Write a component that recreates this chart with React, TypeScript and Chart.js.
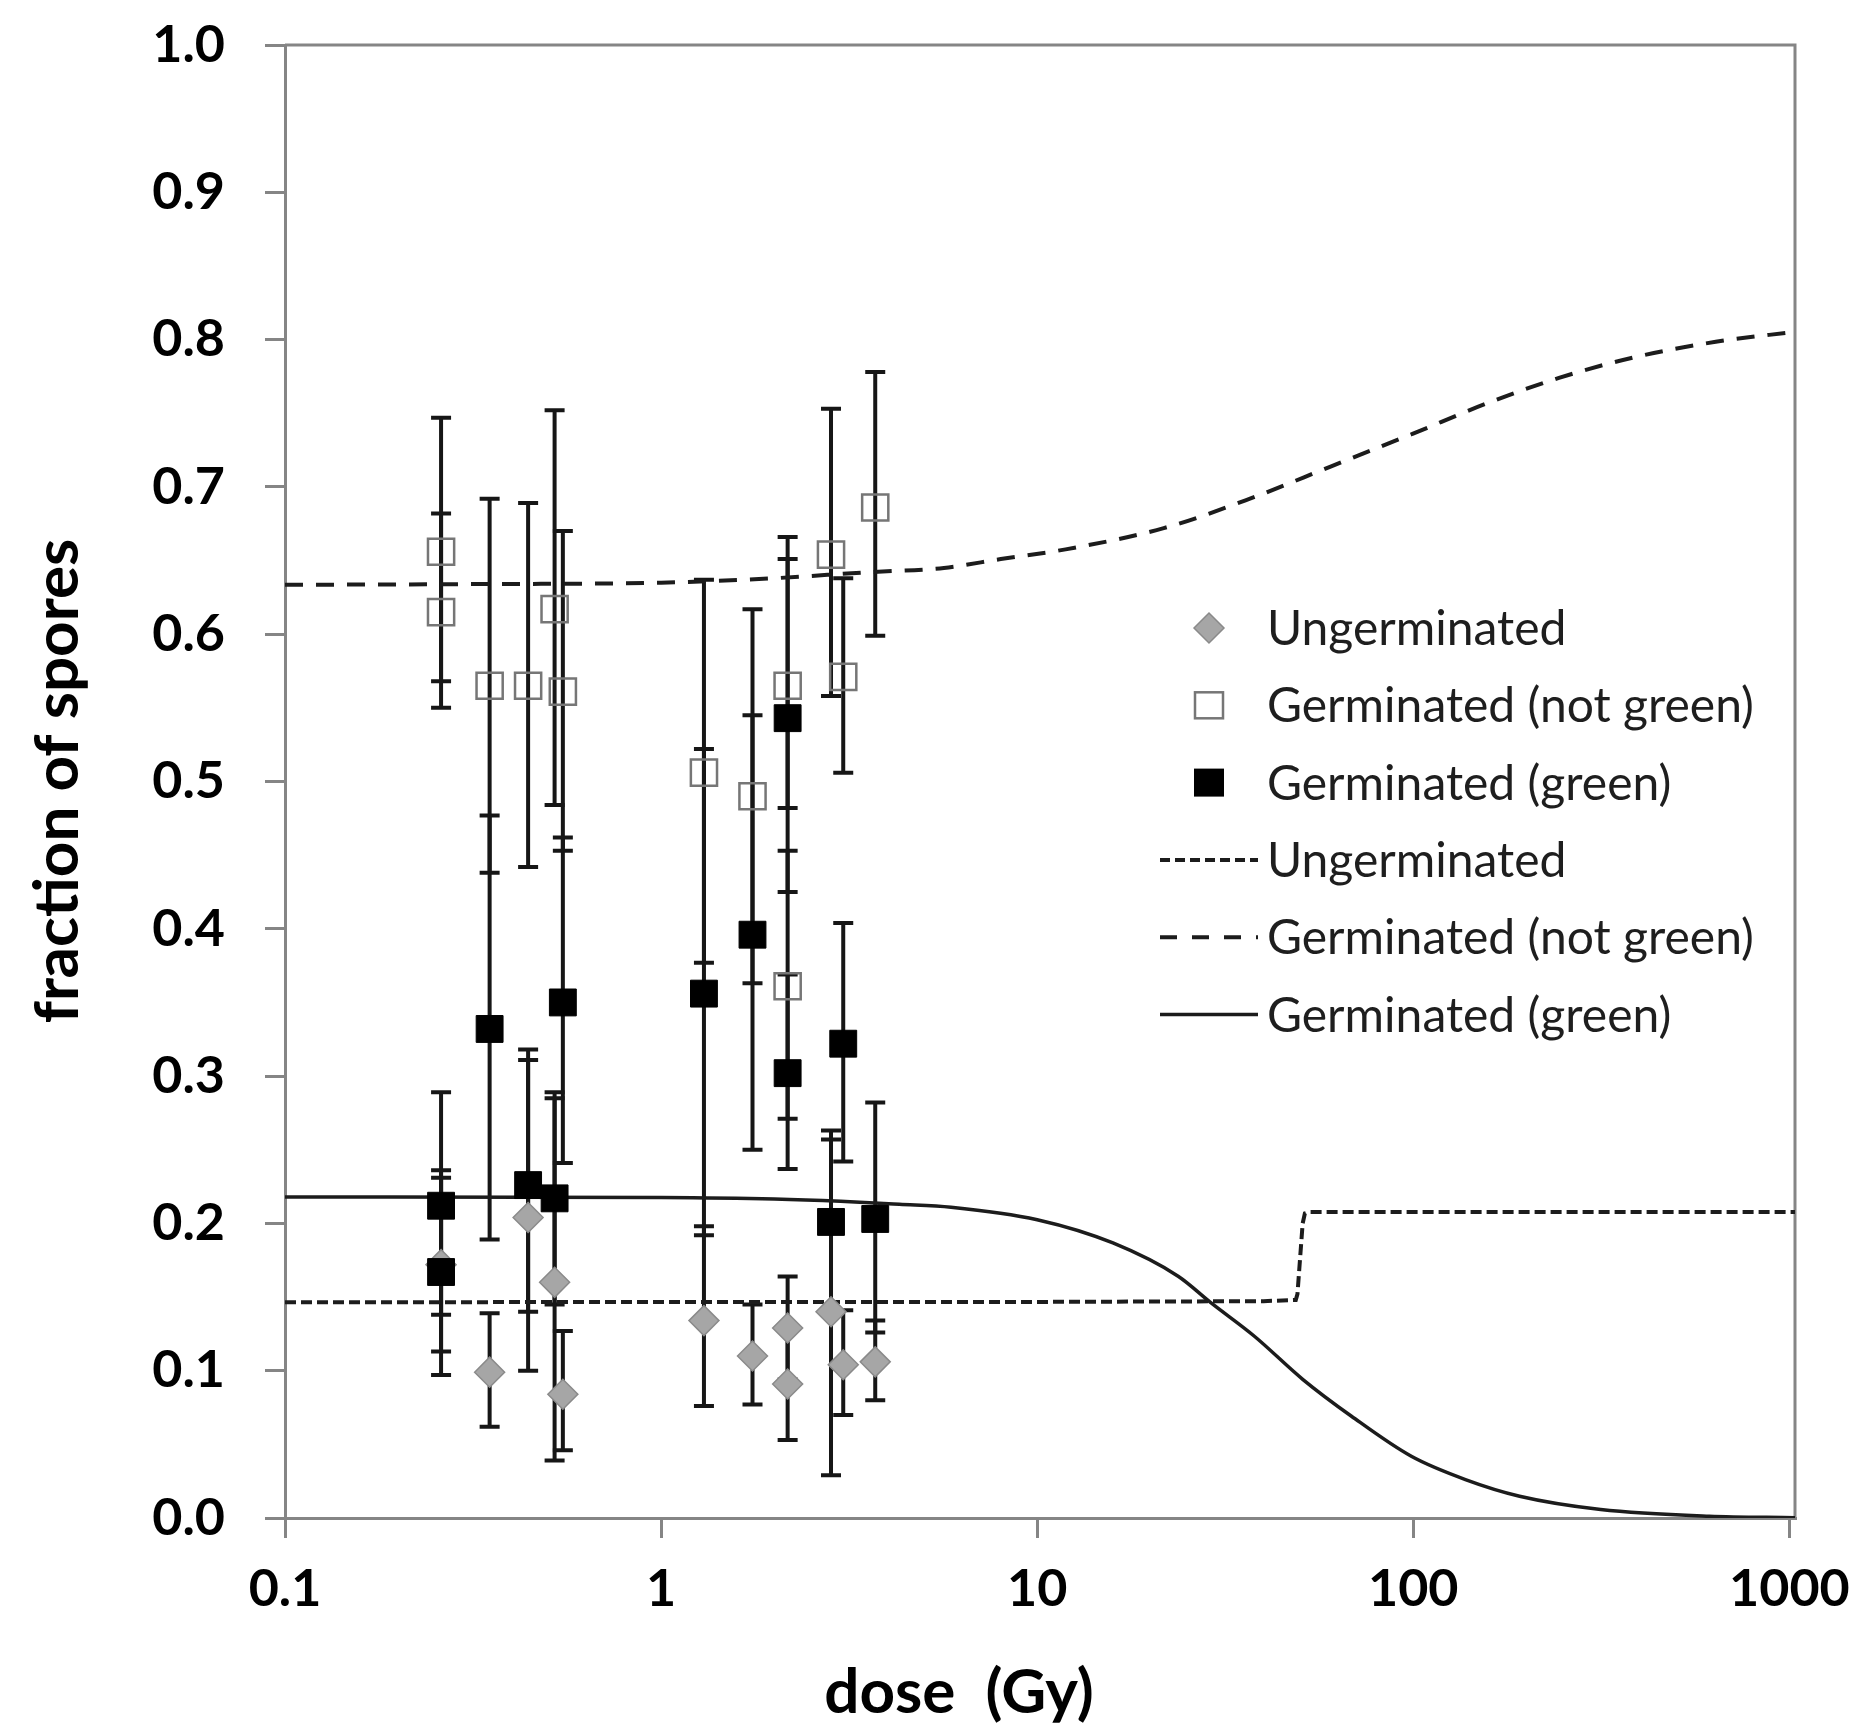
import React, { useEffect, useRef } from "react";
import { Chart, registerables } from "chart.js";

Chart.register(...registerables);

const W = 1850;
const H = 1724;
const FONT = "Lato, 'Open Sans', 'DejaVu Sans', sans-serif";

// ---------- axis ticks / titles ----------
const xTickValues = [0.1, 1, 10, 100, 1000];
const xTickLabels = ["0.1", "1", "10", "100", "1000"];
const yTickValues = [0, 0.1, 0.2, 0.3, 0.4, 0.5, 0.6, 0.7, 0.8, 0.9, 1.0];
const yTickLabels = ["0.0", "0.1", "0.2", "0.3", "0.4", "0.5", "0.6", "0.7", "0.8", "0.9", "1.0"];
const xAxisTitle = "dose  (Gy)";
const yAxisTitle = "fraction of spores";

// ---------- series names ----------
const seriesUngerminated = "Ungerminated";
const seriesNotGreen = "Germinated (not green)";
const seriesGreen = "Germinated (green)";

// ---------- measured points (dose, fraction, error bar low, error bar high) ----------
const ungermX = [0.26, 0.35, 0.443, 0.521, 0.548, 1.3, 1.75, 2.17, 2.17, 2.83, 3.05, 3.71];
const ungermY = [0.172, 0.099, 0.204, 0.16, 0.084, 0.134, 0.11, 0.129, 0.091, 0.14, 0.104, 0.106];
const ungermLo = [0.113, 0.062, 0.1, 0.039, 0.046, 0.076, 0.077, 0.094, 0.053, 0.029, 0.07, 0.08];
const ungermHi = [0.231, 0.139, 0.311, 0.285, 0.127, 0.198, 0.145, 0.164, 0.128, 0.257, 0.141, 0.134];

const notGreenX = [0.26, 0.26, 0.35, 0.443, 0.521, 0.548, 1.3, 1.75, 2.17, 2.17, 2.83, 3.05, 3.71];
const notGreenY = [0.656, 0.615, 0.565, 0.565, 0.617, 0.561, 0.506, 0.49, 0.565, 0.361, 0.654, 0.571, 0.686];
const notGreenLo = [0.568, 0.55, 0.438, 0.442, 0.484, 0.453, 0.377, 0.363, 0.482, 0.271, 0.558, 0.506, 0.599];
const notGreenHi = [0.747, 0.682, 0.692, 0.689, 0.752, 0.67, 0.637, 0.617, 0.651, 0.453, 0.753, 0.638, 0.778];

const greenX = [0.26, 0.26, 0.35, 0.443, 0.521, 0.548, 1.3, 1.75, 2.17, 2.17, 2.83, 3.05, 3.71];
const greenY = [0.212, 0.167, 0.332, 0.226, 0.217, 0.35, 0.356, 0.396, 0.543, 0.302, 0.201, 0.322, 0.203];
const greenLo = [0.138, 0.097, 0.189, 0.14, 0.145, 0.241, 0.192, 0.25, 0.425, 0.237, 0.139, 0.242, 0.126];
const greenHi = [0.289, 0.236, 0.477, 0.318, 0.289, 0.462, 0.522, 0.545, 0.666, 0.369, 0.263, 0.404, 0.282];

// ---------- model curves ----------
const ungermFitX = [0.1, 10, 40, 48.7, 49.2, 50.8, 51.5, 53, 100, 1035];
const ungermFitY = [0.1465, 0.1467, 0.1472, 0.148, 0.152, 0.2, 0.2068, 0.2078, 0.2078, 0.2078];

const notGreenFitX = [0.1, 0.3, 1, 2, 3.5, 5.65, 8, 11.9, 21.7, 36.8, 60.5, 99.5, 158, 244, 387, 637, 1035];
const notGreenFitY = [0.6335, 0.634, 0.635, 0.638, 0.642, 0.645, 0.651, 0.6576, 0.672, 0.692, 0.714, 0.736, 0.757, 0.774, 0.788, 0.7985, 0.8053];

const greenFitX = [0.1, 1, 2, 3, 4.3, 5.9, 10, 15.9, 23.7, 29, 37.8, 50.9, 68.5, 98.8, 137.6, 191.7, 315, 612, 1035];
const greenFitY = [0.218, 0.2175, 0.2165, 0.215, 0.213, 0.211, 0.2025, 0.1867, 0.1641, 0.146, 0.1234, 0.094, 0.0691, 0.0419, 0.0261, 0.0148, 0.0058, 0.0012, 0.0002];

const toXY = (xs: number[], ys: number[]) => xs.map((x, i) => ({ x, y: ys[i] }));

const AXIS_GRAY = "#858585";
const BAR_COLOR = "#161616";
const LINE_COLOR = "#1c1c1c";
const DIAMOND_FILL = "#a6a6a6";
const DIAMOND_EDGE = "#8a8a8a";
const OPEN_EDGE = "#767676";

const errorBarPlugin = {
  id: "errorBars",
  beforeDatasetsDraw(chart: any) {
    const ctx = chart.ctx;
    const yScale = chart.scales.y;
    const a = chart.chartArea;
    ctx.save();
    ctx.beginPath();
    ctx.rect(a.left, a.top, a.right - a.left, a.bottom - a.top);
    ctx.clip();
    ctx.strokeStyle = BAR_COLOR;
    ctx.lineWidth = 4;
    chart.data.datasets.forEach((ds: any, i: number) => {
      const eb = ds.errorBars;
      if (!eb) return;
      const meta = chart.getDatasetMeta(i);
      meta.data.forEach((pt: any, j: number) => {
        const x = pt.x;
        const yl = yScale.getPixelForValue(eb.lo[j]);
        const yh = yScale.getPixelForValue(eb.hi[j]);
        ctx.beginPath();
        ctx.moveTo(x, yl);
        ctx.lineTo(x, yh);
        ctx.moveTo(x - 10, yl);
        ctx.lineTo(x + 10, yl);
        ctx.moveTo(x - 10, yh);
        ctx.lineTo(x + 10, yh);
        ctx.stroke();
      });
    });
    ctx.restore();
  },
};

const framePlugin = {
  id: "frame",
  beforeDatasetsDraw(chart: any) {
    const ctx = chart.ctx;
    const a = chart.chartArea;
    ctx.save();
    ctx.strokeStyle = AXIS_GRAY;
    ctx.lineWidth = 3;
    ctx.beginPath();
    ctx.moveTo(a.left, a.top);
    ctx.lineTo(a.right, a.top);
    ctx.lineTo(a.right, a.bottom);
    ctx.stroke();
    ctx.restore();
  },
};

const titlesPlugin = {
  id: "axisTitles",
  afterDraw(chart: any) {
    const ctx = chart.ctx;
    ctx.save();
    ctx.fillStyle = "#000";
    ctx.font = `bold 62px ${FONT}`;
    ctx.textAlign = "center";
    ctx.textBaseline = "alphabetic";
    ctx.fillText(xAxisTitle, 959, 1713);
    ctx.translate(78, 781);
    ctx.rotate(-Math.PI / 2);
    ctx.fillText(yAxisTitle, 0, 0);
    ctx.restore();
  },
};

const legendPlugin = {
  id: "customLegend",
  afterDraw(chart: any) {
    const ctx = chart.ctx;
    const ds = chart.data.datasets;
    const rows = [ds[2], ds[1], ds[0], ds[3], ds[4], ds[5]];
    const y0 = 628;
    const step = 77.3;
    const symX = 1209;
    const textX = 1267;
    ctx.save();
    rows.forEach((d: any, i: number) => {
      const cy = y0 + i * step;
      ctx.setLineDash([]);
      if (d.legendKind === "diamond") {
        ctx.beginPath();
        ctx.moveTo(symX - 15, cy);
        ctx.lineTo(symX, cy - 15);
        ctx.lineTo(symX + 15, cy);
        ctx.lineTo(symX, cy + 15);
        ctx.closePath();
        ctx.fillStyle = DIAMOND_FILL;
        ctx.fill();
        ctx.strokeStyle = DIAMOND_EDGE;
        ctx.lineWidth = 1.5;
        ctx.stroke();
      } else if (d.legendKind === "open") {
        ctx.strokeStyle = OPEN_EDGE;
        ctx.lineWidth = 2.5;
        ctx.strokeRect(symX - 14, cy - 13, 28, 26);
      } else if (d.legendKind === "filled") {
        ctx.fillStyle = "#000";
        ctx.fillRect(symX - 15, cy - 14, 30, 28);
      } else {
        ctx.strokeStyle = LINE_COLOR;
        ctx.lineWidth = d.borderWidth;
        ctx.setLineDash(d.legendDash || []);
        ctx.beginPath();
        ctx.moveTo(1160, cy);
        ctx.lineTo(1258, cy);
        ctx.stroke();
        ctx.setLineDash([]);
      }
      ctx.fillStyle = "#1e1e1e";
      ctx.font = `48px ${FONT}`;
      ctx.textAlign = "left";
      ctx.textBaseline = "alphabetic";
      ctx.fillText(d.label, textX, cy + 17);
    });
    ctx.restore();
  },
};

export default function App() {
  const ref = useRef<HTMLCanvasElement>(null);

  useEffect(() => {
    const canvas = ref.current;
    if (!canvas) return;
    const tickFont = { family: FONT, size: 52, weight: "bold" as const };
    const chart = new Chart(canvas, {
      type: "scatter",
      data: {
        datasets: [
          {
            label: seriesGreen,
            data: toXY(greenX, greenY),
            pointStyle: "rect",
            pointRadius: 19,
            backgroundColor: "#000",
            borderColor: "#000",
            borderWidth: 1,
            order: 1,
            legendKind: "filled",
            errorBars: { lo: greenLo, hi: greenHi },
          } as any,
          {
            label: seriesNotGreen,
            data: toXY(notGreenX, notGreenY),
            pointStyle: "rect",
            pointRadius: 18.5,
            backgroundColor: "rgba(0,0,0,0)",
            borderColor: OPEN_EDGE,
            borderWidth: 2.5,
            order: 2,
            legendKind: "open",
            errorBars: { lo: notGreenLo, hi: notGreenHi },
          } as any,
          {
            label: seriesUngerminated,
            data: toXY(ungermX, ungermY),
            pointStyle: "rectRot",
            pointRadius: 15,
            backgroundColor: DIAMOND_FILL,
            borderColor: DIAMOND_EDGE,
            borderWidth: 1.5,
            order: 3,
            legendKind: "diamond",
            errorBars: { lo: ungermLo, hi: ungermHi },
          } as any,
          {
            label: seriesUngerminated,
            data: toXY(ungermFitX, ungermFitY),
            showLine: true,
            pointRadius: 0,
            borderColor: LINE_COLOR,
            borderWidth: 4,
            borderDash: [11, 5],
            legendDash: [10, 5],
            tension: 0,
            fill: false,
            order: 4,
            legendKind: "line",
          } as any,
          {
            label: seriesNotGreen,
            data: toXY(notGreenFitX, notGreenFitY),
            showLine: true,
            pointRadius: 0,
            borderColor: LINE_COLOR,
            borderWidth: 4,
            borderDash: [18, 13],
            legendDash: [17, 15],
            cubicInterpolationMode: "monotone",
            fill: false,
            order: 5,
            legendKind: "line",
          } as any,
          {
            label: seriesGreen,
            data: toXY(greenFitX, greenFitY),
            showLine: true,
            pointRadius: 0,
            borderColor: LINE_COLOR,
            borderWidth: 3.5,
            cubicInterpolationMode: "monotone",
            fill: false,
            order: 6,
            legendKind: "line",
          } as any,
        ],
      },
      options: {
        responsive: false,
        animation: false,
        devicePixelRatio: 1,
        events: [],
        layout: { padding: { left: 0, top: 45, right: 55, bottom: 0 } },
        plugins: {
          legend: { display: false },
          tooltip: { enabled: false },
          title: { display: false },
        },
        scales: {
          x: {
            type: "logarithmic",
            position: "bottom",
            min: 0.1,
            max: 1035,
            afterBuildTicks: (scale: any) => {
              scale.ticks = xTickValues.map((v) => ({ value: v }));
            },
            afterFit: (scale: any) => {
              scale.height = 206;
              scale.paddingLeft = 0;
              scale.paddingRight = 0;
              scale.paddingTop = 0;
              scale.paddingBottom = 0;
            },
            ticks: {
              autoSkip: false,
              maxRotation: 0,
              minRotation: 0,
              padding: 20,
              color: "#000",
              font: tickFont,
              callback: (v: any) => {
                const idx = xTickValues.findIndex((t) => Math.abs(t - Number(v)) < 1e-9 * Math.max(1, t));
                return idx >= 0 ? xTickLabels[idx] : "";
              },
            },
            grid: {
              drawOnChartArea: false,
              drawTicks: true,
              tickLength: 20,
              color: AXIS_GRAY,
              lineWidth: 3,
            },
            border: { display: true, color: AXIS_GRAY, width: 3 },
          } as any,
          y: {
            type: "linear",
            min: 0,
            max: 1,
            afterBuildTicks: (scale: any) => {
              scale.ticks = yTickValues.map((v) => ({ value: v }));
            },
            afterFit: (scale: any) => {
              scale.width = 285;
              scale.paddingLeft = 0;
              scale.paddingRight = 0;
              scale.paddingTop = 0;
              scale.paddingBottom = 0;
            },
            ticks: {
              padding: 40,
              color: "#000",
              font: tickFont,
              callback: (v: any) => {
                const idx = yTickValues.findIndex((t) => Math.abs(t - Number(v)) < 1e-9);
                return idx >= 0 ? yTickLabels[idx] : "";
              },
            },
            grid: {
              drawOnChartArea: false,
              drawTicks: true,
              tickLength: 20,
              color: AXIS_GRAY,
              lineWidth: 3,
            },
            border: { display: true, color: AXIS_GRAY, width: 3 },
          } as any,
        },
      } as any,
      plugins: [framePlugin, errorBarPlugin, titlesPlugin, legendPlugin],
    });
    return () => chart.destroy();
  }, []);

  return (
    <div style={{ position: "absolute", left: 0, top: 0, width: W, height: H, background: "#fff" }}>
      <canvas ref={ref} width={W} height={H} style={{ display: "block", width: W, height: H }} />
    </div>
  );
}
